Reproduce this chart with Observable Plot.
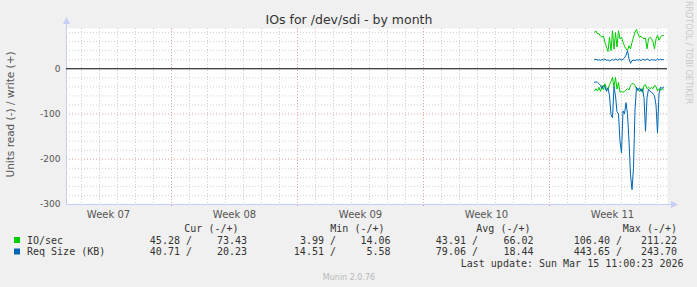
<!DOCTYPE html>
<html>
<head>
<meta charset="utf-8">
<script src="https://cdn.jsdelivr.net/npm/d3@7"></script>
<script src="https://cdn.jsdelivr.net/npm/@observablehq/plot@0.6"></script>
<style>
  html, body { margin: 0; padding: 0; background: #f0f0f0; }
  #chart svg { display: block; }
</style>
</head>
<body>
<div id="chart"></div>
<script>
// ---- data ----
const seriesNames = ["IO/sec", "Req Size (KB)"];
const seriesColors = ["#00cc00", "#0066b3"];
const startTime = Date.UTC(2026, 2, 11, 12, 0); // first sample
const stepHours = 2;
// write (+) values
const ioWrite = [81,83,77,78,72,70,72,58,48,38,70,40,84,43,80,48,84,66,70,59,50,44,40,51,44,58,70,81,87,77,70,72,68,66,68,44,66,70,66,60,44,66,74,63,70,74,73];
const reqWrite = [20,21,19,20,18,21,19,22,18,20,17,19,21,18,22,19,20,22,19,21,24,30,40,22,12,18,19,18,20,19,20,18,21,20,19,22,20,18,21,19,20,18,22,19,21,20,20];
// read (-) values (plotted below zero)
const ioRead = [49,44,49,41,50,37,47,33,47,44,35,28,19,41,19,45,30,52,50,52,50,47,44,47,37,33,33,37,44,44,50,44,52,37,35,44,41,44,41,44,37,39,49,44,47,45,45];
const reqRead = [30,29,30,33,37,44,36,40,50,42,60,101,108,40,60,95,100,160,186,93,100,75,100,160,234,267,219,91,41,48,42,50,44,64,138,64,45,50,52,55,60,80,142,55,41,43,41];

// legend statistics
const curRead = ["45.28", "40.71"], curWrite = ["73.43", "20.23"];
const minRead = ["3.99", "14.51"], minWrite = ["14.06", "5.58"];
const avgRead = ["43.91", "79.06"], avgWrite = ["66.02", "18.44"];
const maxRead = ["106.40", "443.65"], maxWrite = ["211.22", "243.70"];
const statHeaders = ["Cur (-/+)", "Min (-/+)", "Avg (-/+)", "Max (-/+)"];

// axes
const yTicks = [0, -100, -200, -300];
const weekLabels = ["Week 07", "Week 08", "Week 09", "Week 10", "Week 11"];
const weekMid = [Date.UTC(2026,1,12,12), Date.UTC(2026,1,19,12), Date.UTC(2026,1,26,12), Date.UTC(2026,2,5,12), Date.UTC(2026,2,12,12)].map(d => new Date(d));
const xDomain = [new Date(Date.UTC(2026,1,10,4,0)), new Date(Date.UTC(2026,2,15,13,20))];
const yDomain = [-300, 89];

const title = "IOs for /dev/sdi - by month";
const yLabel = "Units read (-) / write (+)";
const lastUpdate = "Last update: Sun Mar 15 11:00:23 2026";
const footer = "Munin 2.0.76";
const sideText = "RRDTOOL / TOBI OETIKER";

// ---- build ----
const times = ioWrite.map((_, i) => new Date(startTime + i * stepHours * 3600e3));
const rows = (arr, sign) => arr.map((v, i) => ({t: times[i], v: sign * v}));

const W = 697, H = 287, ML = 66, MR = 30, MT = 28, MB = 83;
const minorY = d3.range(-280, 90, 20).filter(v => v % 100 !== 0);
const majorY = [-200, -100];
const allDays = d3.utcDay.range(new Date(Date.UTC(2026,1,11)), new Date(Date.UTC(2026,2,16)));
const weekStarts = allDays.filter(d => d.getUTCDay() === 1);
const minorX = allDays.filter(d => d.getUTCDay() !== 1);

const gridMinor = "#cfcfcf", gridMajor = "#e6a2a2", axisColor = "#c6cdf6";
const mono = "DejaVu Sans Mono";
const sans = "DejaVu Sans";

function lbl(text, x, y, o = {}) {
  return Plot.text([text], {
    frameAnchor: "top-left", dx: x - ML, dy: y - MT,
    textAnchor: o.anchor || "start", lineAnchor: "middle",
    fontFamily: o.font || mono, fontSize: o.size || 10,
    fill: o.fill || "#333", rotate: o.rotate || 0
  });
}

const legendRowY = [240, 251.5];
const colEnds = [ [191.5, 246.5], [335.5, 390], [477.5, 533], [621.5, 676.5] ];
const headerEnds = [238, 384, 530, 676.5];
const statCols = [[curRead, curWrite], [minRead, minWrite], [avgRead, avgWrite], [maxRead, maxWrite]];

const legendMarks = [];
statHeaders.forEach((h, j) => legendMarks.push(lbl(h, headerEnds[j], 228, {anchor: "end"})));
seriesNames.forEach((name, i) => {
  legendMarks.push(lbl(name, 26.5, legendRowY[i]));
  statCols.forEach(([r, w], j) => {
    legendMarks.push(lbl(r[i] + " /", colEnds[j][0], legendRowY[i], {anchor: "end"}));
    legendMarks.push(lbl(w[i], colEnds[j][1], legendRowY[i], {anchor: "end"}));
  });
});
legendMarks.push(lbl(lastUpdate, 683, 263.5, {anchor: "end"}));

const chart = Plot.plot({
  width: W, height: H,
  marginLeft: ML, marginRight: MR, marginTop: MT, marginBottom: MB,
  style: {background: "#f0f0f0", fontFamily: sans, overflow: "visible"},
  x: {type: "utc", domain: xDomain, axis: null},
  y: {domain: yDomain, axis: null},
  marks: [
    Plot.frame({fill: "white", stroke: "none"}),
    Plot.ruleY(minorY, {stroke: gridMinor, strokeDasharray: "1,2"}),
    Plot.ruleX(minorX, {stroke: gridMinor, strokeDasharray: "1,2"}),
    Plot.ruleY(majorY, {stroke: gridMajor, strokeDasharray: "1,2"}),
    Plot.ruleX(weekStarts, {stroke: gridMajor, strokeDasharray: "1,2", insetBottom: -3}),
    // axes lines
    Plot.ruleX([xDomain[0]], {stroke: axisColor, insetTop: -4}),
    Plot.ruleY([yDomain[0]], {stroke: axisColor, insetRight: -4}),
    Plot.ruleY([0], {stroke: "#000"}),
    // data
    Plot.line(rows(ioWrite, 1), {x: "t", y: "v", stroke: seriesColors[0], strokeWidth: 1}),
    Plot.line(rows(reqWrite, 1), {x: "t", y: "v", stroke: seriesColors[1], strokeWidth: 1}),
    Plot.line(rows(ioRead, -1), {x: "t", y: "v", stroke: seriesColors[0], strokeWidth: 1}),
    Plot.line(rows(reqRead, -1), {x: "t", y: "v", stroke: seriesColors[1], strokeWidth: 1}),
    // y tick labels
    Plot.text(yTicks, {x: xDomain[0], y: d => d, text: d => String(d).replace("-", "-"), dx: -6, textAnchor: "end", fontSize: 9, fill: "#555", fontFamily: sans}),
    // x labels
    Plot.text(weekMid, {x: d => d, text: (d, i) => weekLabels[i], frameAnchor: "bottom", dy: 10, lineAnchor: "middle", fontSize: 10, fill: "#555", fontFamily: sans}),
    // title, axis label, side text, footer
    lbl(title, 348.5, 19, {anchor: "middle", font: sans, size: 12.5, fill: "#333"}),
    lbl(yLabel, 10, 114, {anchor: "middle", font: sans, size: 10.5, fill: "#555", rotate: -90}),
    lbl(sideText, 688, 52, {anchor: "middle", font: sans, size: 8, fill: "#c8c8c8", rotate: 90}),
    lbl(footer, 348.5, 277, {anchor: "middle", font: sans, size: 8, fill: "#b8b8b8"}),
    ...legendMarks
  ]
});

// arrows and legend swatches drawn with d3 from the plot's own scales
const xs = chart.scale("x"), ys = chart.scale("y");
const svg = d3.select(chart);
const ax = Math.round(xs.apply(xDomain[0])) + 0.5;
const ayTop = ys.apply(yDomain[1]) - 4;
svg.append("path").attr("d", `M${ax - 3.5},${ayTop} L${ax + 3.5},${ayTop} L${ax},${ayTop - 7} Z`).attr("fill", axisColor);
const bx = xs.apply(xDomain[1]) + 4;
const by = Math.round(ys.apply(yDomain[0])) + 0.5;
svg.append("path").attr("d", `M${bx},${by - 3.5} L${bx},${by + 3.5} L${bx + 7},${by} Z`).attr("fill", axisColor);
seriesColors.forEach((c, i) => {
  svg.append("rect").attr("x", 14).attr("y", legendRowY[i] - 3).attr("width", 6).attr("height", 6).attr("fill", c);
});

document.getElementById("chart").appendChild(chart);
</script>
</body>
</html>
